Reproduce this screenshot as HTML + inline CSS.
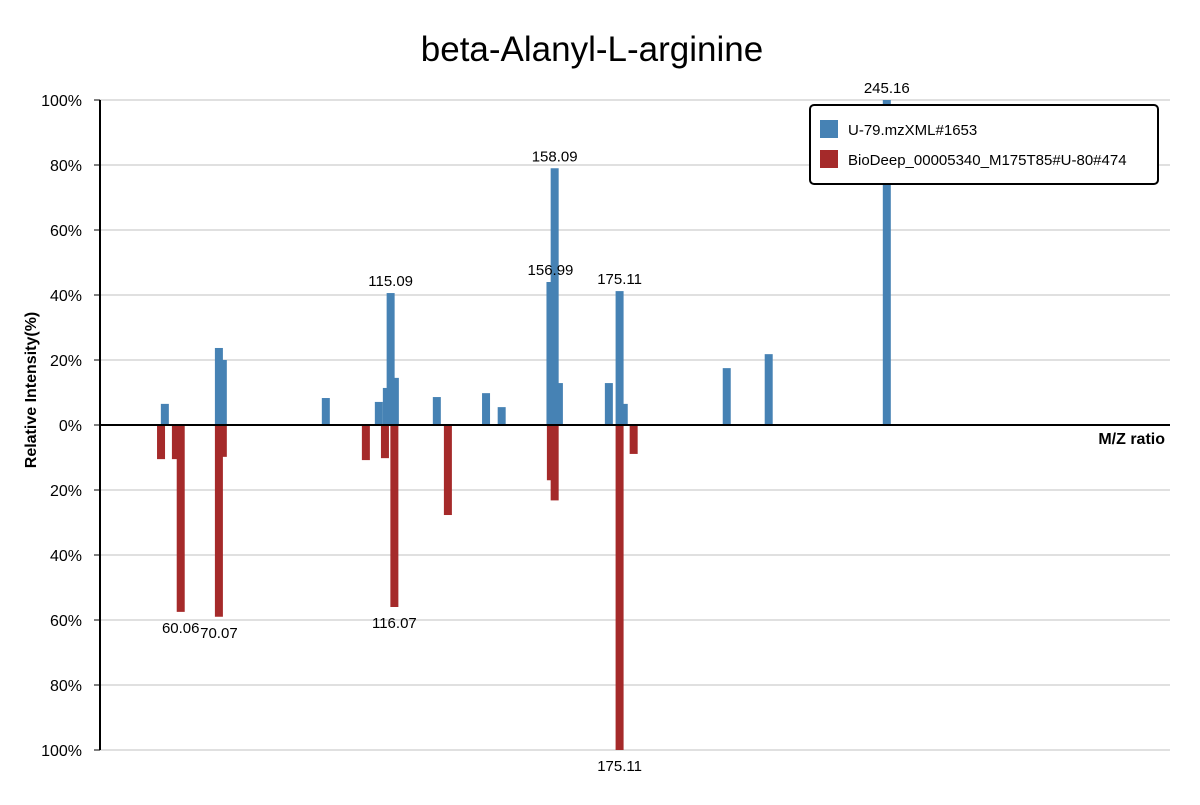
<!DOCTYPE html>
<html><head><meta charset="utf-8"><style>
body{margin:0;background:#fff;font-family:"Liberation Sans",sans-serif}
svg text{font-family:"Liberation Sans",sans-serif}
</style></head><body>
<svg id="chart" width="1200" height="800">
<text x="592" y="61" font-size="35" text-anchor="middle">beta-Alanyl-L-arginine</text>
<g id="grid"></g><g id="bars"></g><g id="axes"></g><g id="labels"></g>
<text x="1165" y="444" font-size="16" font-weight="bold" text-anchor="end">M/Z ratio</text>
<text transform="translate(36,390) rotate(-90)" font-size="16" font-weight="bold" text-anchor="middle">Relative Intensity(%)</text>
<g>
<rect x="810" y="105" width="348" height="79" rx="4" fill="#fff" stroke="#000" stroke-width="2"/>
<rect x="820" y="120" width="18" height="18" fill="#4682b4"/>
<text x="848" y="135" font-size="15">U-79.mzXML#1653</text>
<rect x="820" y="150" width="18" height="18" fill="#a52a2a"/>
<text x="848" y="165" font-size="15">BioDeep_00005340_M175T85#U-80#474</text>
</g>
</svg>
<script>
const queryMz=[55.9,70.07,71.1,98.1,112.0,114.1,115.09,116.2,127.2,140.1,144.2,156.99,158.09,159.2,172.3,175.11,176.2,203.2,214.2,245.16];
const queryInt=[6.5,23.7,20,8.3,7.1,11.4,40.6,14.5,8.6,9.8,5.5,44,79,12.9,12.9,41.2,6.5,17.5,21.8,100];
const refMz=[54.9,58.8,60.06,70.07,71.1,108.6,113.6,116.07,130.1,157.1,158.09,175.11,178.8];
const refInt=[10.5,10.5,57.5,59,9.8,10.8,10.2,56,27.7,17,23.2,100,8.9];
const queryLabels=["156.99","158.09","115.09","175.11","245.16"];
const refLabels=["60.06","70.07","116.07","175.11"];
const yTicks=[100,80,60,40,20,0,-20,-40,-60,-80,-100];
const NS="http://www.w3.org/2000/svg";
const x=m=>100+(m-38.9)/(319.4-38.9)*1070;
const y=v=>425-v*3.25;
function el(t,a,p){const e=document.createElementNS(NS,t);for(const k in a)e.setAttribute(k,a[k]);document.getElementById(p).appendChild(e);return e;}
yTicks.forEach(v=>{
 if(v!==0){const g=el('line',{x1:100,x2:1170,y1:y(v),y2:y(v),stroke:'#e0e0e0','stroke-width':2},'grid');
 
 }
 const t=el('text',{x:82,y:y(v)+6,'font-size':16,'text-anchor':'end'},'axes');
 t.textContent=Math.abs(v)+'%';
 
 
});
queryMz.forEach((m,i)=>{
 const r=el('rect',{x:x(m)-4,y:y(queryInt[i]),width:8,height:queryInt[i]*3.25,fill:'#4682b4'},'bars');
 
 
 if(queryLabels.includes(m.toFixed(2))){
  const t=el('text',{x:x(m),y:y(queryInt[i])-7,'font-size':15,'text-anchor':'middle'},'labels');
  t.textContent=m.toFixed(2);
  
  
 }
});
refMz.forEach((m,i)=>{
 const r=el('rect',{x:x(m)-4,y:425,width:8,height:refInt[i]*3.25,fill:'#a52a2a'},'bars');
 
 
 if(refLabels.includes(m.toFixed(2))){
  const t=el('text',{x:x(m),y:y(-refInt[i])+21,'font-size':15,'text-anchor':'middle'},'labels');
  t.textContent=m.toFixed(2);
  
  
 }
});
let a=el('line',{x1:100,x2:100,y1:100,y2:750,stroke:'#000','stroke-width':2},'axes');


a=el('line',{x1:100,x2:1170,y1:425,y2:425,stroke:'#000','stroke-width':2},'axes');


yTicks.forEach(v=>{const t=el('line',{x1:94,x2:100,y1:y(v),y2:y(v),stroke:'#000','stroke-width':1},'axes');
 
 });
</script>
</body></html>
